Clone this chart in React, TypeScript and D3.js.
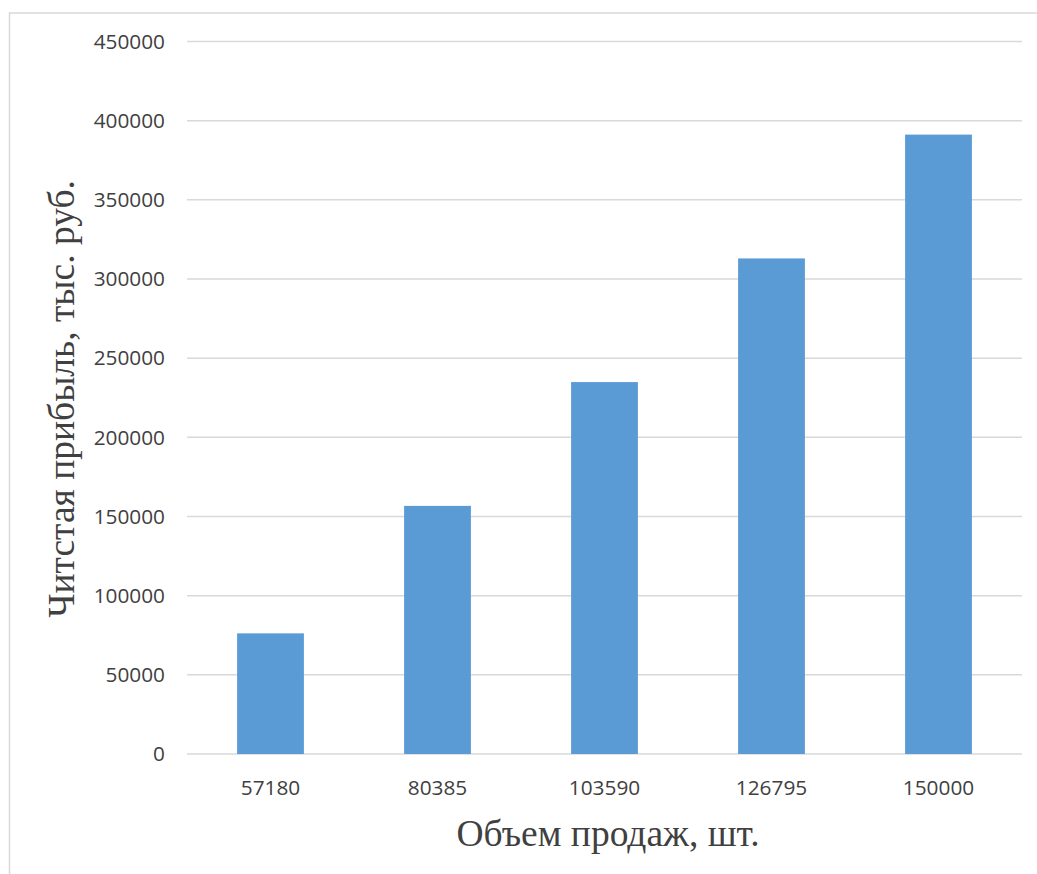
import React from "react";
import * as d3 from "d3";

const categories = ["57180", "80385", "103590", "126795", "150000"];
const profitValues = [76200, 156700, 234900, 313000, 391200];
const yTicks = [0, 50000, 100000, 150000, 200000, 250000, 300000, 350000, 400000, 450000];
const xTitle = "Объем продаж, шт.";
const yTitle = "Читстая прибыль, тыс. руб.";

const W = 1037;
const H = 874;
const plot = { left: 187, right: 1022, top: 41.5, bottom: 754 };

export default function App() {
  const x = d3
    .scaleBand<string>()
    .domain(categories)
    .range([plot.left, plot.right])
    .paddingInner(0.6)
    .paddingOuter(0.3);
  const y = d3.scaleLinear().domain([0, 450000]).range([plot.bottom, plot.top]);
  const tickFont = "'Open Sans', 'Noto Sans', sans-serif";
  const serif = "'Liberation Serif', 'Times New Roman', serif";
  return (
    <svg
      width={W}
      height={H}
      style={{ position: "absolute", left: 0, top: 0, display: "block", background: "#fff" }}
    >
      <rect x={9.5} y={13} width={W + 10} height={H + 10} fill="#fff" stroke="#d9d9d9" strokeWidth={1.5} />
      {yTicks.map((t) => (
        <g key={t}>
          <line x1={plot.left} x2={plot.right} y1={y(t)} y2={y(t)} stroke="#d9d9d9" strokeWidth={1.5} />
          <text
            x={165}
            y={y(t)}
            dy="0.35em"
            textAnchor="end"
            fontFamily={tickFont}
            fontSize={20.8}
            fill="#404040"
          >
            {t}
          </text>
        </g>
      ))}
      {categories.map((c, i) => (
        <g key={c}>
          <rect
            x={x(c)}
            y={y(profitValues[i])}
            width={x.bandwidth()}
            height={y(0) - y(profitValues[i])}
            fill="#5b9bd5"
          />
          <text
            x={(x(c) as number) + x.bandwidth() / 2}
            y={788}
            dy="0.35em"
            textAnchor="middle"
            fontFamily={tickFont}
            fontSize={20.8}
            fill="#404040"
          >
            {c}
          </text>
        </g>
      ))}
      <text x={608} y={846} textAnchor="middle" fontFamily={serif} fontSize={37.5} fill="#404040">
        {xTitle}
      </text>
      <text
        transform={`translate(74, 399) rotate(-90)`}
        textAnchor="middle"
        fontFamily={serif}
        fontSize={37.5}
        fill="#404040"
      >
        {yTitle}
      </text>
    </svg>
  );
}
